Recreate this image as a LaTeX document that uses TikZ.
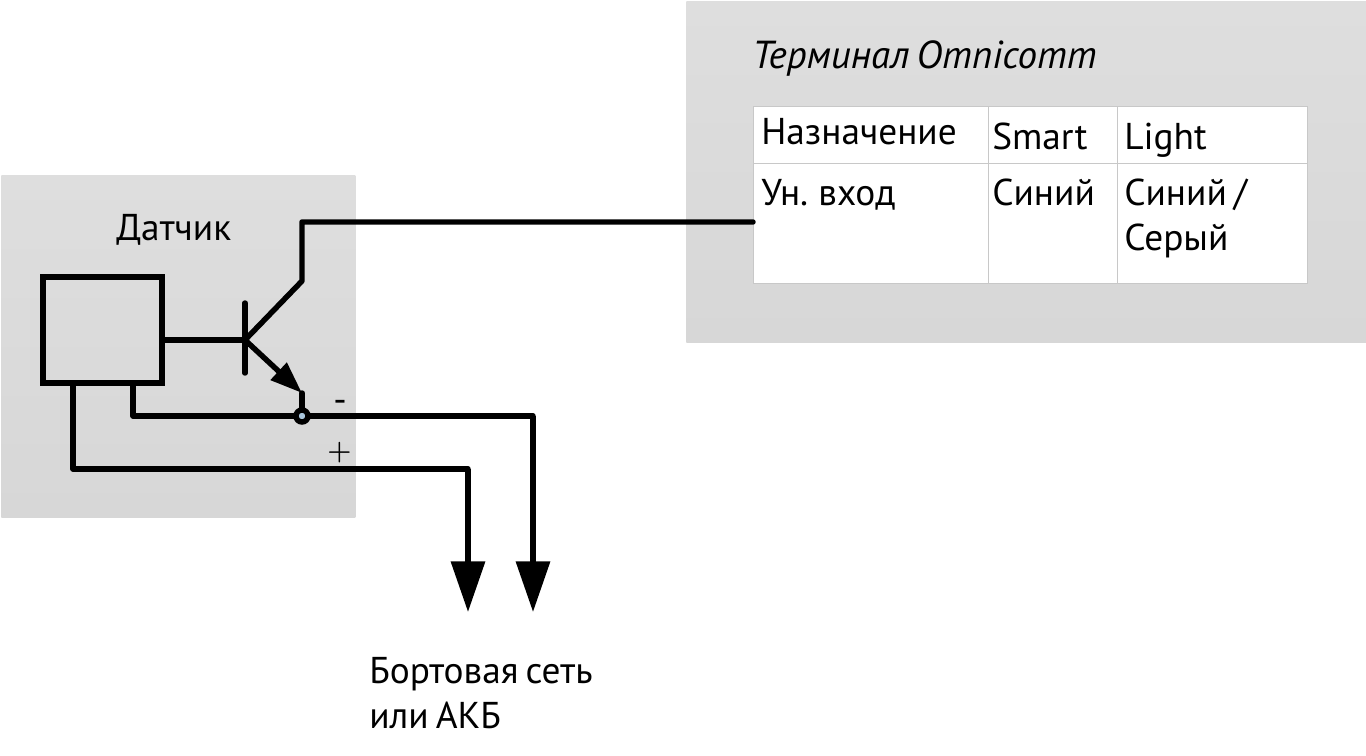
\documentclass[tikz,border=0pt]{standalone}
\usepackage{fontspec}
\setmainfont[WordSpace=0.7]{PT Sans}
\usetikzlibrary{arrows.meta}

\tikzset{
    panel/.style = {anchor=north west, inner sep=0pt, top color=panelTop, bottom color=panelBottom},
    cell/.style = {draw=cellLine, fill=white, line width=0.8pt, anchor=north west, inner sep=0pt},
    wire/.style = {line width=4.1pt, line cap=round, line join=round},
    caption/.style = {anchor=base west, inner sep=0pt, font=\fontsize{28}{28}\selectfont},
}
\definecolor{panelTop}{HTML}{DEDEDE}
\definecolor{panelBottom}{HTML}{D7D7D7}
\definecolor{cellLine}{HTML}{C8C8C8}
\definecolor{dotFill}{HTML}{A9C6DC}

\begin{document}
\begin{tikzpicture}[x=0.75pt, y=-0.75pt]
    \useasboundingbox (0, 0) rectangle (1366, 756);

    \node[panel, minimum width=265.5pt, minimum height=256.5pt] (sensor) at (1, 175) {};
    \node[panel, minimum width=510pt, minimum height=255.75pt] (terminal) at (686, 1) {};

    \foreach \name/\x/\y/\w/\h in {
        headA/753/106/235/57, headB/988/106/129/57, headC/1117/106/190/57,
        purpose/753/163/235/120, smart/988/163/129/120, light/1117/163/190/120} {
        \node[cell, minimum width=0.75pt*\w, minimum height=0.75pt*\h] (\name) at (\x, \y) {};
    }

    \foreach \name/\x/\y/\txt in {
        t1/116/240/Датчик, t2/761/145/Назначение, t3/992/150/Smart, t4/1124/150/Light,
        t5/761/205/Ун. вход, t6/992/205/Синий, t7/1124/205/{Синий /}, t8/1124/250/Серый,
        t9/369/683/Бортовая сеть, t10/369/728/или АКБ, t11/333/412/-} {
        \node[caption] (\name) at (\x, \y) {\txt};
    }
    \node[caption, font=\fontsize{22}{22}\selectfont\boldmath] (t12) at (327, 459) {$+$};
    \node[caption, font=\fontsize{29.3}{29.3}\selectfont\itshape] (title) at (752, 69) {Терминал Omnicomm};

    \node[draw, line width=4.1pt, minimum width=89.25pt, minimum height=79.5pt, inner sep=0pt] (driver) at (102.5, 330) {};
    \coordinate (base) at (245, 340);
    \coordinate (barTop) at (245, 303);
    \coordinate (barEnd) at (245, 373);
    \coordinate (elbow) at (302, 281);
    \coordinate (collector) at (302, 222);
    \coordinate (emitter) at (302, 393);
    \coordinate (minusOut) at (133, 383);
    \coordinate (minusCorner) at (133, 416);
    \coordinate (plusOut) at (73, 383);
    \coordinate (plusCorner) at (73, 469);
    \coordinate (minusBend) at (533, 416);
    \coordinate (plusBend) at (468, 469);
    \coordinate (minusTip) at (533, 612);
    \coordinate (plusTip) at (468, 612);
    \node[circle, draw, line width=4.1pt, fill=dotFill, minimum size=9pt, inner sep=0pt] (joint) at (302, 416) {};

    \draw[wire] (driver.east |- base) -- (base);
    \draw[wire] (barTop) -- (barEnd);
    \draw[wire] (base) -- (elbow) -- (collector) -- (purpose.west |- collector);
    \draw[wire, -{Triangle[length=24pt, width=17pt]}] (base) -- (emitter);
    \draw[wire] (emitter) -- (joint);
    \draw[wire] (minusOut) -- (minusCorner) -- (joint) -- (minusBend);
    \draw[wire, line cap=butt, -{Triangle[length=38pt, width=25pt]}] (minusBend) -- (minusTip);
    \draw[wire] (plusOut) -- (plusCorner) -- (plusBend);
    \draw[wire, line cap=butt, -{Triangle[length=38pt, width=25pt]}] (plusBend) -- (plusTip);
\end{tikzpicture}
\end{document}
